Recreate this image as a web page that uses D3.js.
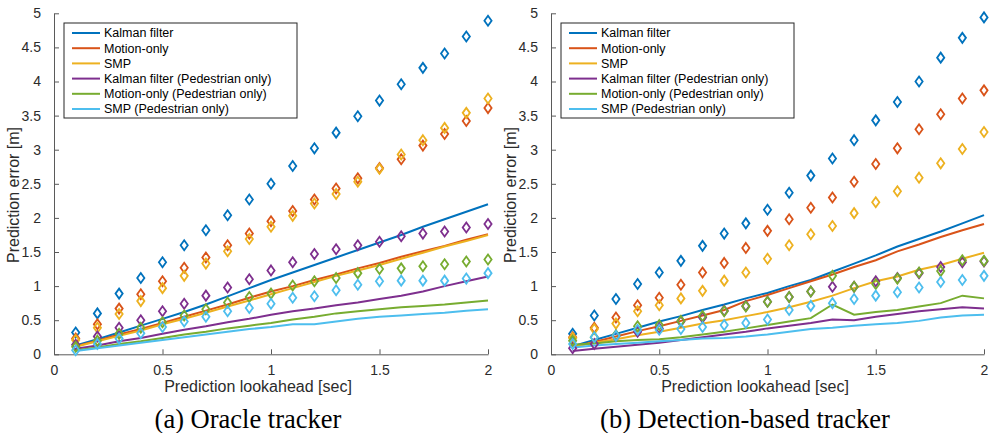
<!DOCTYPE html>
<html>
<head>
  <meta charset="UTF-8">
  <style>
    body { margin: 0; background: white; }
    text { font-family: "Liberation Sans", Arial, sans-serif; }
  </style>
</head>
<body>
<div id="chart_div"></div>

<script src="https://d3js.org/d3.v7.min.js"></script>
<script>

let width = 990, height = 433;

// lookahead steps [sec]
const lookahead = [0.1, 0.2, 0.3, 0.4, 0.5, 0.6, 0.7, 0.8, 0.9, 1.0, 1.1, 1.2, 1.3, 1.4, 1.5, 1.6, 1.7, 1.8, 1.9, 2.0];

const seriesNames = ["Kalman filter", "Motion-only", "SMP", "Kalman filter (Pedestrian only)", "Motion-only (Pedestrian only)", "SMP (Pedestrian only)"];
const seriesColors = ["#0072BD", "#D95319", "#EDB120", "#7E2F8E", "#77AC30", "#4DBEEE"];

const xTicks = [0, 0.5, 1, 1.5, 2];
const yTicks = [0, 0.5, 1, 1.5, 2, 2.5, 3, 3.5, 4, 4.5, 5];

// (a) oracle tracker - lines
const oracleKalmanLine    = [0.13, 0.22, 0.32, 0.42, 0.52, 0.62, 0.73, 0.85, 0.97, 1.09, 1.20, 1.31, 1.42, 1.53, 1.64, 1.75, 1.87, 1.98, 2.09, 2.20];
const oracleMotionLine    = [0.12, 0.20, 0.29, 0.37, 0.46, 0.55, 0.64, 0.73, 0.83, 0.92, 1.00, 1.09, 1.17, 1.26, 1.34, 1.43, 1.51, 1.59, 1.68, 1.76];
const oracleSmpLine       = [0.11, 0.19, 0.27, 0.35, 0.44, 0.52, 0.61, 0.70, 0.79, 0.88, 0.97, 1.06, 1.15, 1.23, 1.31, 1.40, 1.49, 1.58, 1.66, 1.75];
const oracleKalmanPedLine = [0.08, 0.13, 0.19, 0.24, 0.30, 0.36, 0.41, 0.47, 0.52, 0.58, 0.63, 0.67, 0.72, 0.76, 0.81, 0.86, 0.92, 1.00, 1.07, 1.14];
const oracleMotionPedLine = [0.06, 0.10, 0.15, 0.19, 0.24, 0.29, 0.33, 0.38, 0.42, 0.46, 0.51, 0.55, 0.60, 0.63, 0.66, 0.69, 0.71, 0.73, 0.76, 0.79];
const oracleSmpPedLine    = [0.05, 0.09, 0.13, 0.17, 0.21, 0.25, 0.29, 0.33, 0.37, 0.40, 0.44, 0.44, 0.48, 0.52, 0.55, 0.57, 0.59, 0.61, 0.64, 0.66];

// (a) oracle tracker - diamond markers
const oracleKalmanMarks    = [0.32, 0.60, 0.89, 1.12, 1.35, 1.60, 1.82, 2.04, 2.27, 2.50, 2.76, 3.02, 3.25, 3.49, 3.72, 3.96, 4.20, 4.41, 4.66, 4.89];
const oracleMotionMarks    = [0.23, 0.44, 0.67, 0.88, 1.07, 1.27, 1.42, 1.60, 1.77, 1.95, 2.10, 2.27, 2.43, 2.58, 2.73, 2.86, 3.06, 3.23, 3.42, 3.61];
const oracleSmpMarks       = [0.21, 0.39, 0.59, 0.78, 0.97, 1.15, 1.33, 1.51, 1.69, 1.87, 2.03, 2.21, 2.35, 2.53, 2.72, 2.93, 3.14, 3.32, 3.54, 3.75];
const oracleKalmanPedMarks = [0.14, 0.26, 0.39, 0.50, 0.63, 0.74, 0.86, 0.98, 1.10, 1.23, 1.35, 1.47, 1.54, 1.60, 1.65, 1.73, 1.77, 1.80, 1.86, 1.91];
const oracleMotionPedMarks = [0.11, 0.20, 0.30, 0.39, 0.47, 0.57, 0.66, 0.76, 0.84, 0.89, 1.01, 1.07, 1.12, 1.19, 1.25, 1.26, 1.29, 1.32, 1.36, 1.39];
const oracleSmpPedMarks    = [0.06, 0.15, 0.23, 0.31, 0.40, 0.48, 0.55, 0.63, 0.68, 0.74, 0.83, 0.85, 0.94, 1.02, 1.07, 1.08, 1.08, 1.08, 1.11, 1.19];

// (b) detection-based tracker - lines
const detKalmanLine    = [0.12, 0.21, 0.30, 0.39, 0.48, 0.56, 0.65, 0.73, 0.82, 0.90, 1.00, 1.09, 1.21, 1.33, 1.45, 1.58, 1.69, 1.80, 1.92, 2.04];
const detMotionLine    = [0.11, 0.18, 0.26, 0.34, 0.41, 0.49, 0.57, 0.65, 0.78, 0.87, 0.97, 1.07, 1.17, 1.28, 1.38, 1.51, 1.61, 1.72, 1.82, 1.91];
const detSmpLine       = [0.11, 0.17, 0.22, 0.28, 0.33, 0.39, 0.45, 0.50, 0.56, 0.62, 0.69, 0.77, 0.86, 0.97, 1.07, 1.14, 1.24, 1.31, 1.40, 1.49];
const detKalmanPedLine = [0.05, 0.08, 0.11, 0.14, 0.17, 0.21, 0.25, 0.29, 0.33, 0.38, 0.42, 0.46, 0.51, 0.50, 0.55, 0.59, 0.63, 0.66, 0.69, 0.67];
const detMotionPedLine = [0.14, 0.16, 0.19, 0.21, 0.22, 0.25, 0.29, 0.33, 0.38, 0.43, 0.48, 0.53, 0.73, 0.58, 0.62, 0.65, 0.70, 0.75, 0.86, 0.82];
const detSmpPedLine    = [0.10, 0.13, 0.15, 0.17, 0.19, 0.21, 0.23, 0.24, 0.26, 0.29, 0.33, 0.37, 0.39, 0.42, 0.44, 0.46, 0.49, 0.54, 0.57, 0.58];

// (b) detection-based tracker - diamond markers
const detKalmanMarks    = [0.30, 0.57, 0.81, 1.03, 1.20, 1.37, 1.59, 1.77, 1.92, 2.12, 2.37, 2.62, 2.87, 3.14, 3.43, 3.70, 4.00, 4.35, 4.64, 4.94];
const detMotionMarks    = [0.25, 0.39, 0.54, 0.72, 0.83, 1.02, 1.20, 1.34, 1.56, 1.81, 1.98, 2.15, 2.30, 2.53, 2.79, 3.02, 3.30, 3.52, 3.75, 3.87];
const detSmpMarks       = [0.24, 0.37, 0.45, 0.63, 0.72, 0.82, 0.93, 1.08, 1.20, 1.40, 1.60, 1.76, 1.88, 2.07, 2.23, 2.39, 2.59, 2.80, 3.01, 3.26];
const detKalmanPedMarks = [0.09, 0.15, 0.27, 0.33, 0.38, 0.48, 0.54, 0.64, 0.71, 0.77, 0.84, 0.92, 0.99, 0.99, 1.07, 1.12, 1.19, 1.28, 1.35, 1.36];
const detMotionPedMarks = [0.20, 0.25, 0.28, 0.41, 0.43, 0.49, 0.56, 0.63, 0.70, 0.77, 0.84, 0.92, 1.15, 0.99, 1.03, 1.11, 1.20, 1.22, 1.38, 1.37];
const detSmpPedMarks    = [0.15, 0.25, 0.27, 0.36, 0.36, 0.37, 0.40, 0.43, 0.46, 0.51, 0.65, 0.71, 0.75, 0.81, 0.86, 0.91, 0.98, 1.06, 1.09, 1.15];

const panels = [
  { left: 54, right: 488, caption: "(a) Oracle tracker", labelX: 258, captionX: 248,
    lines: [oracleKalmanLine, oracleMotionLine, oracleSmpLine, oracleKalmanPedLine, oracleMotionPedLine, oracleSmpPedLine],
    marks: [oracleKalmanMarks, oracleMotionMarks, oracleSmpMarks, oracleKalmanPedMarks, oracleMotionPedMarks, oracleSmpPedMarks] },
  { left: 551, right: 984, caption: "(b) Detection-based tracker", labelX: 755, captionX: 745,
    lines: [detKalmanLine, detMotionLine, detSmpLine, detKalmanPedLine, detMotionPedLine, detSmpPedLine],
    marks: [detKalmanMarks, detMotionMarks, detSmpMarks, detKalmanPedMarks, detMotionPedMarks, detSmpPedMarks] }
];

const plotTop = 13.3, plotBottom = 354.3;
const axisColor = "#5a5a5a";
const diamond = "M0,-5L3.6,0L0,5L-3.6,0Z";

let svg = d3.select("#chart_div")
  .append("svg")
  .attr("width", width)
  .attr("height", height);

panels.forEach(p => {
  let x = d3.scaleLinear().domain([0, 2]).range([p.left, p.right]);
  let y = d3.scaleLinear().domain([0, 5]).range([plotBottom, plotTop]);
  let g = svg.append("g");

  // axes, ticks pointing inward like matlab
  let yAxis = g.append("g")
    .attr("transform", "translate(" + p.left + ",0)")
    .call(d3.axisLeft(y).tickValues(yTicks).tickFormat(d3.format("")).tickSizeInner(-5).tickSizeOuter(0).tickPadding(13));
  let xAxis = g.append("g")
    .attr("transform", "translate(0," + plotBottom + ")")
    .call(d3.axisBottom(x).tickValues(xTicks).tickFormat(d3.format("")).tickSizeInner(-5).tickSizeOuter(0).tickPadding(11));
  [yAxis, xAxis].forEach(a => {
    a.select(".domain").attr("stroke", axisColor);
    a.selectAll(".tick line").attr("stroke", axisColor);
    a.selectAll(".tick text")
      .attr("fill", "#2b2b2b")
      .style("font-size", "14px")
      .style("font-family", "'Liberation Sans', Arial, sans-serif");
  });

  // lines
  let line = d3.line()
    .x((d, i) => x(lookahead[i]))
    .y(d => y(d));
  g.append("g").selectAll("path")
    .data(p.lines)
    .enter()
    .append("path")
    .attr("d", line)
    .attr("fill", "none")
    .attr("stroke", (d, i) => seriesColors[i])
    .attr("stroke-width", 2);

  // diamond markers
  p.marks.forEach((vals, k) => {
    g.append("g").selectAll("path")
      .data(vals)
      .enter()
      .append("path")
      .attr("d", diamond)
      .attr("transform", (d, i) => "translate(" + x(lookahead[i]) + "," + y(d) + ")")
      .attr("fill", "none")
      .attr("stroke", seriesColors[k])
      .attr("stroke-width", 1.8);
  });

  // axis labels
  g.append("text")
    .attr("x", p.labelX)
    .attr("y", 392)
    .attr("text-anchor", "middle")
    .attr("fill", "#2b2b2b")
    .style("font-size", "16px")
    .text("Prediction lookahead [sec]");
  g.append("text")
    .attr("transform", "translate(" + (p.left - 35) + ",195) rotate(-90)")
    .attr("text-anchor", "middle")
    .attr("fill", "#2b2b2b")
    .style("font-size", "16px")
    .text("Prediction error [m]");

  // caption under panel
  g.append("text")
    .attr("x", p.captionX)
    .attr("y", 428)
    .attr("text-anchor", "middle")
    .attr("fill", "#000")
    .style("font-family", "'Liberation Serif', 'Times New Roman', serif")
    .style("font-size", "26.5px")
    .text(p.caption);

  // legend
  let lx = p.left + 10, ly = 23;
  let legend = g.append("g").attr("transform", "translate(" + lx + "," + ly + ")");
  legend.append("rect")
    .attr("width", 233)
    .attr("height", 95)
    .attr("fill", "white")
    .attr("stroke", "#262626")
    .attr("stroke-width", 1);
  let rows = legend.selectAll("g.row")
    .data(seriesNames)
    .enter()
    .append("g")
    .attr("class", "row")
    .attr("transform", (d, i) => "translate(0," + (10 + i * 15.2) + ")");
  rows.append("line")
    .attr("x1", 8).attr("x2", 36)
    .attr("stroke", (d, i) => seriesColors[i])
    .attr("stroke-width", 2);
  rows.append("text")
    .attr("x", 40)
    .attr("dy", "0.35em")
    .attr("fill", "#000")
    .style("font-size", "12.5px")
    .text(d => d);
});

</script>

</body>
</html>
